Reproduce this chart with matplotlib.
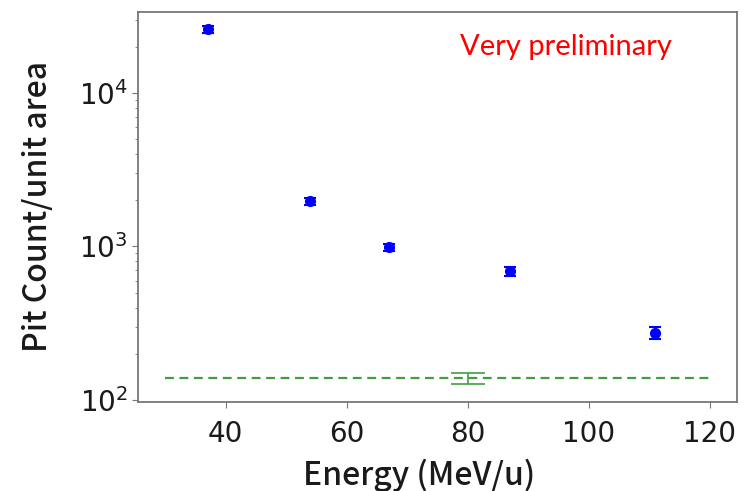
import matplotlib
matplotlib.use("Agg")
import matplotlib.pyplot as plt
import numpy as np

# measured pit counts vs beam energy
energy = [37, 54, 67, 87, 111]
pit_count = [26000, 1970, 985, 690, 275]
pit_err = [1300, 110, 55, 45, 25]

# background level
bg_x = [30, 120]
bg_level = 139
bg_point_x = 80
bg_err = 12

label_font = ['Noto Sans CJK JP', 'DejaVu Sans']

fig = plt.figure(figsize=(7.42, 4.91), dpi=100)
ax = fig.add_axes([0.186, 0.181, 0.807, 0.795])

ax.plot(bg_x, [bg_level, bg_level], '--', color='#3f9f3f', lw=1.6, dashes=(4, 2.5))
ax.errorbar([bg_point_x], [bg_level], yerr=[bg_err], fmt='none', ecolor='#3f9f3f',
            elinewidth=1.2, capsize=12, capthick=1.2)
ax.errorbar(energy, pit_count, yerr=pit_err, fmt='o', color='blue', ms=7,
            elinewidth=1.5, capsize=4, capthick=1.5)

ax.set_yscale('log')
ax.set_ylim(97, 33700)
ax.set_xlim(25.5, 124.5)
ax.set_xticks([40, 60, 80, 100, 120])

for s in ax.spines.values():
    s.set_color('#777777')
    s.set_linewidth(1.3)
ax.tick_params(which='both', colors='#777777', labelcolor='#1a1a1a', labelsize=20)
ax.tick_params(axis='x', pad=9)
ax.tick_params(which='major', length=4)
ax.tick_params(which='minor', length=2.5)

ax.set_xlabel('Energy (MeV/u)', fontsize=23, color='#1a1a1a', family=label_font,
              fontweight='medium')
ax.xaxis.set_label_coords(0.469, -0.145)
ax.set_ylabel('Pit Count/unit area', fontsize=23, color='#1a1a1a', family=label_font,
              fontweight='medium')
ax.yaxis.set_label_coords(-0.14, 0.5)

ax.text(0.537, 0.91, 'Very preliminary', transform=ax.transAxes, color='red',
        fontsize=21, family='Lato', va='center', ha='left')

fig.savefig('out.png', dpi=100)
